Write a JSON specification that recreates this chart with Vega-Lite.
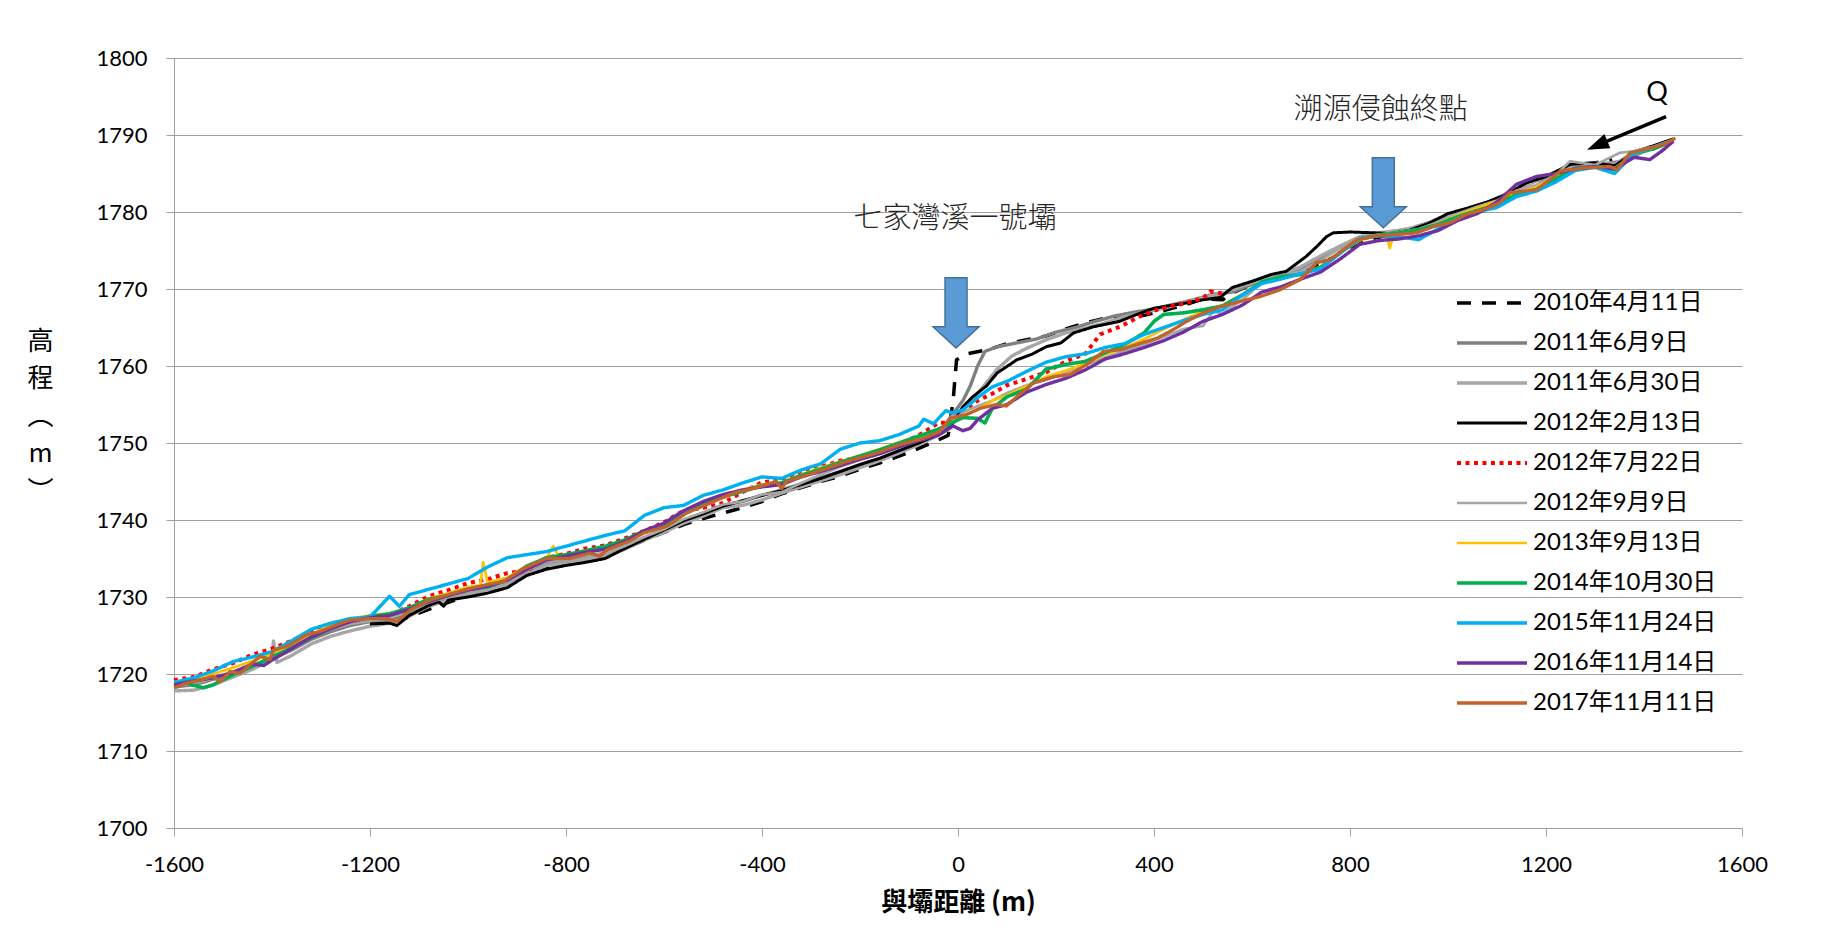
{
"$schema":"https://vega.github.io/schema/vega-lite/v6.json",
"width":1568,"height":770,
"autosize":{"type":"none"},
"padding":{"left":174,"top":58,"right":97,"bottom":106},
"background":"white",
"config":{"view":{"stroke":null},"font":"Lato, Noto Sans CJK TC"},
"datasets":{
"lab":[{"s":"a","n":"2010年4月11日"},{"s":"b","n":"2011年6月9日"},{"s":"c","n":"2011年6月30日"},{"s":"d","n":"2012年2月13日"},{"s":"e","n":"2012年7月22日"},{"s":"f","n":"2012年9月9日"},{"s":"g","n":"2013年9月13日"},{"s":"h","n":"2014年10月30日"},{"s":"i","n":"2015年11月24日"},{"s":"j","n":"2016年11月14日"},{"s":"k","n":"2017年11月11日"}],
"ann":[{"x":-6,"y":1779.1,"t":"七家灣溪一號壩"},{"x":863,"y":1793.3,"t":"溯源侵蝕終點"}],
"q":[{"x":1426.5,"y":1795.4,"t":"Q"}],
"arr":[{"x":-4,"y":1766.9},{"x":868,"y":1782.5}],
"qline":[{"x":1445,"y":1792.4,"x2":1317.5,"y2":1789.0}],
"qhead":[{"x":1304.5,"y":1788.65}],
"pts":[
{"s":"a","x":-1200,"y":1726.3},{"s":"a","x":-1160,"y":1726.6},{"s":"a","x":-1120,"y":1727.4},{"s":"a","x":-1080,"y":1728.4},{"s":"a","x":-1040,"y":1729.3},{"s":"a","x":-1000,"y":1730.2},{"s":"a","x":-960,"y":1730.8},{"s":"a","x":-920,"y":1731.6},{"s":"a","x":-880,"y":1732.8},{"s":"a","x":-840,"y":1733.9},{"s":"a","x":-800,"y":1734.3},{"s":"a","x":-760,"y":1734.9},{"s":"a","x":-720,"y":1735.4},{"s":"a","x":-680,"y":1736.3},{"s":"a","x":-640,"y":1737.4},{"s":"a","x":-600,"y":1738.4},{"s":"a","x":-560,"y":1739.4},{"s":"a","x":-520,"y":1740.2},{"s":"a","x":-480,"y":1740.9},{"s":"a","x":-440,"y":1741.6},{"s":"a","x":-400,"y":1742.4},{"s":"a","x":-360,"y":1743.4},{"s":"a","x":-320,"y":1744.2},{"s":"a","x":-280,"y":1745.0},{"s":"a","x":-240,"y":1745.7},{"s":"a","x":-200,"y":1746.6},{"s":"a","x":-160,"y":1747.4},{"s":"a","x":-120,"y":1748.3},{"s":"a","x":-80,"y":1749.3},{"s":"a","x":-40,"y":1750.4},{"s":"a","x":-20,"y":1751.0},{"s":"a","x":-10,"y":1755.5},{"s":"a","x":-3,"y":1760.8},{"s":"a","x":20,"y":1761.6},{"s":"a","x":60,"y":1762.1},{"s":"a","x":100,"y":1762.9},{"s":"a","x":140,"y":1763.4},{"s":"a","x":180,"y":1763.9},{"s":"a","x":220,"y":1764.8},{"s":"a","x":260,"y":1765.6},{"s":"a","x":300,"y":1766.2},{"s":"a","x":340,"y":1766.3},{"s":"a","x":380,"y":1766.6},{"s":"a","x":420,"y":1767.2},{"s":"a","x":460,"y":1767.9},{"s":"a","x":500,"y":1768.7},{"s":"a","x":540,"y":1768.6},{"s":"a","x":560,"y":1769.5},{"s":"a","x":600,"y":1770.6},{"s":"a","x":640,"y":1771.6},{"s":"a","x":680,"y":1772.2},{"s":"a","x":720,"y":1772.8},{"s":"a","x":760,"y":1773.9},{"s":"a","x":800,"y":1775.4},{"s":"a","x":840,"y":1776.5},{"s":"a","x":880,"y":1777.0},{"s":"a","x":920,"y":1777.5},{"s":"a","x":960,"y":1778.4},{"s":"a","x":1000,"y":1779.4},{"s":"a","x":1040,"y":1780.3},{"s":"a","x":1080,"y":1780.9},{"s":"a","x":1120,"y":1782.1},{"s":"a","x":1160,"y":1783.5},{"s":"a","x":1200,"y":1784.5},{"s":"a","x":1240,"y":1785.6},{"s":"a","x":1280,"y":1786.1},{"s":"a","x":1310,"y":1786.5},{"s":"a","x":1335,"y":1786.8},
{"s":"b","x":-1600,"y":1718.3},{"s":"b","x":-1560,"y":1718.6},{"s":"b","x":-1520,"y":1719.3},{"s":"b","x":-1480,"y":1720.0},{"s":"b","x":-1440,"y":1721.0},{"s":"b","x":-1400,"y":1722.0},{"s":"b","x":-1360,"y":1723.1},{"s":"b","x":-1320,"y":1724.5},{"s":"b","x":-1280,"y":1725.5},{"s":"b","x":-1240,"y":1726.3},{"s":"b","x":-1200,"y":1726.8},{"s":"b","x":-1160,"y":1726.9},{"s":"b","x":-1120,"y":1727.9},{"s":"b","x":-1080,"y":1729.0},{"s":"b","x":-1040,"y":1729.8},{"s":"b","x":-1000,"y":1730.6},{"s":"b","x":-960,"y":1731.2},{"s":"b","x":-920,"y":1731.9},{"s":"b","x":-880,"y":1733.3},{"s":"b","x":-840,"y":1734.5},{"s":"b","x":-800,"y":1734.7},{"s":"b","x":-760,"y":1735.2},{"s":"b","x":-720,"y":1735.7},{"s":"b","x":-680,"y":1736.6},{"s":"b","x":-640,"y":1737.7},{"s":"b","x":-600,"y":1738.7},{"s":"b","x":-560,"y":1739.9},{"s":"b","x":-520,"y":1740.8},{"s":"b","x":-480,"y":1741.9},{"s":"b","x":-440,"y":1742.4},{"s":"b","x":-400,"y":1743.2},{"s":"b","x":-360,"y":1743.9},{"s":"b","x":-320,"y":1744.7},{"s":"b","x":-280,"y":1745.5},{"s":"b","x":-240,"y":1746.3},{"s":"b","x":-200,"y":1747.2},{"s":"b","x":-160,"y":1748.0},{"s":"b","x":-120,"y":1749.0},{"s":"b","x":-80,"y":1750.0},{"s":"b","x":-40,"y":1751.2},{"s":"b","x":-10,"y":1753.8},{"s":"b","x":10,"y":1755.5},{"s":"b","x":25,"y":1757.4},{"s":"b","x":40,"y":1760.0},{"s":"b","x":55,"y":1761.9},{"s":"b","x":80,"y":1762.5},{"s":"b","x":120,"y":1763.0},{"s":"b","x":160,"y":1763.5},{"s":"b","x":200,"y":1764.4},{"s":"b","x":240,"y":1765.0},{"s":"b","x":280,"y":1765.8},{"s":"b","x":320,"y":1766.5},{"s":"b","x":360,"y":1767.0},{"s":"b","x":400,"y":1767.4},{"s":"b","x":440,"y":1768.0},{"s":"b","x":480,"y":1768.6},{"s":"b","x":520,"y":1769.3},{"s":"b","x":560,"y":1769.6},{"s":"b","x":600,"y":1770.6},{"s":"b","x":640,"y":1771.4},{"s":"b","x":680,"y":1772.1},{"s":"b","x":720,"y":1773.3},{"s":"b","x":760,"y":1774.8},{"s":"b","x":800,"y":1776.0},{"s":"b","x":840,"y":1777.0},{"s":"b","x":880,"y":1777.4},{"s":"b","x":920,"y":1777.8},{"s":"b","x":960,"y":1778.6},{"s":"b","x":1000,"y":1779.6},{"s":"b","x":1040,"y":1780.5},{"s":"b","x":1080,"y":1781.2},{"s":"b","x":1120,"y":1782.4},{"s":"b","x":1160,"y":1783.6},{"s":"b","x":1200,"y":1784.6},{"s":"b","x":1240,"y":1785.5},{"s":"b","x":1280,"y":1786.2},{"s":"b","x":1320,"y":1786.3},{"s":"b","x":1360,"y":1786.6},{"s":"b","x":1400,"y":1787.9},{"s":"b","x":1440,"y":1788.7},{"s":"b","x":1460,"y":1789.4},
{"s":"c","x":-1600,"y":1717.8},{"s":"c","x":-1560,"y":1717.9},{"s":"c","x":-1520,"y":1718.6},{"s":"c","x":-1480,"y":1719.6},{"s":"c","x":-1440,"y":1720.6},{"s":"c","x":-1400,"y":1721.9},{"s":"c","x":-1397,"y":1724.3},{"s":"c","x":-1390,"y":1721.5},{"s":"c","x":-1360,"y":1722.4},{"s":"c","x":-1320,"y":1723.9},{"s":"c","x":-1280,"y":1724.9},{"s":"c","x":-1240,"y":1725.6},{"s":"c","x":-1200,"y":1726.2},{"s":"c","x":-1160,"y":1726.6},{"s":"c","x":-1120,"y":1727.5},{"s":"c","x":-1080,"y":1728.8},{"s":"c","x":-1040,"y":1729.6},{"s":"c","x":-1000,"y":1730.3},{"s":"c","x":-960,"y":1730.9},{"s":"c","x":-920,"y":1731.6},{"s":"c","x":-880,"y":1733.0},{"s":"c","x":-840,"y":1734.1},{"s":"c","x":-800,"y":1734.4},{"s":"c","x":-760,"y":1734.9},{"s":"c","x":-720,"y":1735.3},{"s":"c","x":-680,"y":1736.2},{"s":"c","x":-640,"y":1737.4},{"s":"c","x":-600,"y":1738.4},{"s":"c","x":-560,"y":1739.6},{"s":"c","x":-520,"y":1740.5},{"s":"c","x":-480,"y":1741.6},{"s":"c","x":-440,"y":1741.9},{"s":"c","x":-400,"y":1742.6},{"s":"c","x":-360,"y":1743.5},{"s":"c","x":-320,"y":1744.3},{"s":"c","x":-280,"y":1745.1},{"s":"c","x":-240,"y":1745.9},{"s":"c","x":-200,"y":1746.8},{"s":"c","x":-160,"y":1747.7},{"s":"c","x":-120,"y":1748.7},{"s":"c","x":-80,"y":1749.8},{"s":"c","x":-40,"y":1751.0},{"s":"c","x":-10,"y":1753.5},{"s":"c","x":20,"y":1755.0},{"s":"c","x":50,"y":1757.2},{"s":"c","x":80,"y":1759.6},{"s":"c","x":110,"y":1761.3},{"s":"c","x":140,"y":1762.3},{"s":"c","x":180,"y":1763.4},{"s":"c","x":220,"y":1764.3},{"s":"c","x":260,"y":1764.9},{"s":"c","x":300,"y":1765.6},{"s":"c","x":340,"y":1766.4},{"s":"c","x":380,"y":1767.0},{"s":"c","x":420,"y":1767.5},{"s":"c","x":460,"y":1768.2},{"s":"c","x":500,"y":1768.9},{"s":"c","x":540,"y":1769.4},{"s":"c","x":580,"y":1770.4},{"s":"c","x":620,"y":1771.2},{"s":"c","x":660,"y":1771.9},{"s":"c","x":700,"y":1772.9},{"s":"c","x":740,"y":1774.3},{"s":"c","x":780,"y":1775.6},{"s":"c","x":820,"y":1776.8},{"s":"c","x":860,"y":1777.3},{"s":"c","x":900,"y":1777.6},{"s":"c","x":940,"y":1778.1},{"s":"c","x":980,"y":1778.9},{"s":"c","x":1020,"y":1780.0},{"s":"c","x":1060,"y":1780.8},{"s":"c","x":1100,"y":1781.7},{"s":"c","x":1140,"y":1783.0},{"s":"c","x":1180,"y":1784.0},{"s":"c","x":1220,"y":1785.2},{"s":"c","x":1260,"y":1786.2},{"s":"c","x":1300,"y":1786.4},{"s":"c","x":1340,"y":1786.2},{"s":"c","x":1380,"y":1787.8},{"s":"c","x":1420,"y":1788.6},{"s":"c","x":1460,"y":1789.4},
{"s":"d","x":-1200,"y":1726.5},{"s":"d","x":-1160,"y":1726.6},{"s":"d","x":-1145,"y":1726.3},{"s":"d","x":-1120,"y":1727.6},{"s":"d","x":-1080,"y":1728.9},{"s":"d","x":-1060,"y":1729.4},{"s":"d","x":-1050,"y":1728.8},{"s":"d","x":-1040,"y":1729.6},{"s":"d","x":-1000,"y":1730.0},{"s":"d","x":-960,"y":1730.5},{"s":"d","x":-920,"y":1731.2},{"s":"d","x":-880,"y":1732.8},{"s":"d","x":-840,"y":1733.6},{"s":"d","x":-800,"y":1734.1},{"s":"d","x":-760,"y":1734.5},{"s":"d","x":-720,"y":1735.0},{"s":"d","x":-680,"y":1736.3},{"s":"d","x":-640,"y":1737.5},{"s":"d","x":-600,"y":1738.7},{"s":"d","x":-560,"y":1739.9},{"s":"d","x":-520,"y":1740.8},{"s":"d","x":-480,"y":1741.8},{"s":"d","x":-440,"y":1742.5},{"s":"d","x":-400,"y":1743.2},{"s":"d","x":-360,"y":1743.8},{"s":"d","x":-320,"y":1744.6},{"s":"d","x":-280,"y":1745.4},{"s":"d","x":-240,"y":1746.3},{"s":"d","x":-200,"y":1747.2},{"s":"d","x":-160,"y":1748.0},{"s":"d","x":-120,"y":1749.0},{"s":"d","x":-80,"y":1750.0},{"s":"d","x":-40,"y":1751.1},{"s":"d","x":-10,"y":1752.6},{"s":"d","x":10,"y":1754.7},{"s":"d","x":30,"y":1756.0},{"s":"d","x":58,"y":1757.4},{"s":"d","x":80,"y":1759.1},{"s":"d","x":120,"y":1760.8},{"s":"d","x":150,"y":1761.5},{"s":"d","x":180,"y":1762.5},{"s":"d","x":210,"y":1763.0},{"s":"d","x":236,"y":1764.3},{"s":"d","x":277,"y":1765.1},{"s":"d","x":330,"y":1765.8},{"s":"d","x":365,"y":1766.7},{"s":"d","x":400,"y":1767.5},{"s":"d","x":467,"y":1768.2},{"s":"d","x":500,"y":1768.6},{"s":"d","x":535,"y":1768.9},{"s":"d","x":560,"y":1770.2},{"s":"d","x":600,"y":1771.0},{"s":"d","x":640,"y":1771.9},{"s":"d","x":670,"y":1772.3},{"s":"d","x":710,"y":1774.2},{"s":"d","x":732,"y":1775.5},{"s":"d","x":752,"y":1776.8},{"s":"d","x":766,"y":1777.3},{"s":"d","x":800,"y":1777.4},{"s":"d","x":850,"y":1777.3},{"s":"d","x":880,"y":1777.2},{"s":"d","x":920,"y":1777.6},{"s":"d","x":960,"y":1778.5},{"s":"d","x":1000,"y":1779.8},{"s":"d","x":1040,"y":1780.5},{"s":"d","x":1080,"y":1781.3},{"s":"d","x":1120,"y":1782.3},{"s":"d","x":1160,"y":1783.8},{"s":"d","x":1200,"y":1784.6},{"s":"d","x":1250,"y":1786.2},{"s":"d","x":1300,"y":1786.4},{"s":"d","x":1340,"y":1786.0},{"s":"d","x":1385,"y":1787.9},{"s":"d","x":1420,"y":1788.6},{"s":"d","x":1460,"y":1789.5},
{"s":"e","x":-1600,"y":1719.2},{"s":"e","x":-1560,"y":1719.6},{"s":"e","x":-1520,"y":1720.6},{"s":"e","x":-1480,"y":1721.4},{"s":"e","x":-1440,"y":1722.5},{"s":"e","x":-1400,"y":1723.3},{"s":"e","x":-1360,"y":1724.3},{"s":"e","x":-1320,"y":1725.4},{"s":"e","x":-1280,"y":1726.3},{"s":"e","x":-1240,"y":1727.1},{"s":"e","x":-1200,"y":1727.4},{"s":"e","x":-1160,"y":1727.6},{"s":"e","x":-1120,"y":1728.8},{"s":"e","x":-1080,"y":1730.1},{"s":"e","x":-1040,"y":1730.9},{"s":"e","x":-1000,"y":1731.8},{"s":"e","x":-960,"y":1732.3},{"s":"e","x":-920,"y":1733.1},{"s":"e","x":-880,"y":1733.4},{"s":"e","x":-840,"y":1735.1},{"s":"e","x":-800,"y":1735.6},{"s":"e","x":-760,"y":1736.3},{"s":"e","x":-720,"y":1736.7},{"s":"e","x":-680,"y":1737.6},{"s":"e","x":-640,"y":1738.6},{"s":"e","x":-600,"y":1739.7},{"s":"e","x":-560,"y":1741.2},{"s":"e","x":-520,"y":1741.6},{"s":"e","x":-480,"y":1742.2},{"s":"e","x":-440,"y":1743.6},{"s":"e","x":-400,"y":1744.9},{"s":"e","x":-360,"y":1745.2},{"s":"e","x":-320,"y":1746.0},{"s":"e","x":-280,"y":1746.9},{"s":"e","x":-240,"y":1747.7},{"s":"e","x":-200,"y":1748.1},{"s":"e","x":-160,"y":1748.8},{"s":"e","x":-120,"y":1749.9},{"s":"e","x":-80,"y":1751.0},{"s":"e","x":-40,"y":1752.6},{"s":"e","x":-10,"y":1752.7},{"s":"e","x":10,"y":1754.1},{"s":"e","x":40,"y":1755.5},{"s":"e","x":70,"y":1756.4},{"s":"e","x":100,"y":1757.5},{"s":"e","x":140,"y":1758.3},{"s":"e","x":180,"y":1759.2},{"s":"e","x":220,"y":1760.6},{"s":"e","x":260,"y":1761.6},{"s":"e","x":290,"y":1764.1},{"s":"e","x":330,"y":1765.1},{"s":"e","x":370,"y":1766.4},{"s":"e","x":410,"y":1767.4},{"s":"e","x":460,"y":1768.1},{"s":"e","x":500,"y":1768.8},{"s":"e","x":515,"y":1769.7},{"s":"e","x":540,"y":1769.4},
{"s":"f","x":-1600,"y":1718.4},{"s":"f","x":-1560,"y":1718.8},{"s":"f","x":-1520,"y":1719.4},{"s":"f","x":-1480,"y":1720.3},{"s":"f","x":-1440,"y":1721.2},{"s":"f","x":-1400,"y":1722.1},{"s":"f","x":-1360,"y":1723.5},{"s":"f","x":-1320,"y":1724.9},{"s":"f","x":-1280,"y":1725.8},{"s":"f","x":-1240,"y":1726.5},{"s":"f","x":-1200,"y":1726.9},{"s":"f","x":-1160,"y":1727.3},{"s":"f","x":-1120,"y":1728.1},{"s":"f","x":-1080,"y":1729.3},{"s":"f","x":-1040,"y":1730.0},{"s":"f","x":-1000,"y":1730.7},{"s":"f","x":-960,"y":1731.3},{"s":"f","x":-920,"y":1732.0},{"s":"f","x":-880,"y":1733.5},{"s":"f","x":-840,"y":1734.6},{"s":"f","x":-800,"y":1734.8},{"s":"f","x":-760,"y":1735.3},{"s":"f","x":-720,"y":1735.7},{"s":"f","x":-680,"y":1736.6},{"s":"f","x":-640,"y":1737.8},{"s":"f","x":-600,"y":1738.8},{"s":"f","x":-560,"y":1740.1},{"s":"f","x":-520,"y":1741.0},{"s":"f","x":-480,"y":1742.0},{"s":"f","x":-440,"y":1742.4},{"s":"f","x":-400,"y":1743.3},{"s":"f","x":-360,"y":1743.6},{"s":"f","x":-320,"y":1744.8},{"s":"f","x":-280,"y":1745.9},{"s":"f","x":-240,"y":1746.9},{"s":"f","x":-200,"y":1747.8},{"s":"f","x":-160,"y":1748.6},{"s":"f","x":-120,"y":1749.6},{"s":"f","x":-80,"y":1750.4},{"s":"f","x":-40,"y":1751.4},{"s":"f","x":-10,"y":1752.8},{"s":"f","x":10,"y":1754.0},{"s":"f","x":40,"y":1754.8},{"s":"f","x":70,"y":1755.5},{"s":"f","x":100,"y":1756.5},{"s":"f","x":140,"y":1757.5},{"s":"f","x":180,"y":1758.2},{"s":"f","x":220,"y":1759.1},{"s":"f","x":260,"y":1760.1},{"s":"f","x":300,"y":1761.1},{"s":"f","x":340,"y":1762.0},{"s":"f","x":380,"y":1762.8},{"s":"f","x":420,"y":1763.8},{"s":"f","x":460,"y":1764.8},{"s":"f","x":500,"y":1765.2},{"s":"f","x":521,"y":1767.1},{"s":"f","x":540,"y":1766.8},{"s":"f","x":580,"y":1768.6},{"s":"f","x":620,"y":1770.8},{"s":"f","x":660,"y":1771.7},{"s":"f","x":700,"y":1772.3},{"s":"f","x":740,"y":1773.7},{"s":"f","x":780,"y":1775.3},{"s":"f","x":820,"y":1776.7},{"s":"f","x":860,"y":1777.1},{"s":"f","x":900,"y":1777.4},{"s":"f","x":940,"y":1777.8},{"s":"f","x":980,"y":1778.7},{"s":"f","x":1020,"y":1779.8},{"s":"f","x":1060,"y":1780.7},{"s":"f","x":1100,"y":1781.5},{"s":"f","x":1140,"y":1782.8},{"s":"f","x":1180,"y":1783.5},{"s":"f","x":1220,"y":1784.8},{"s":"f","x":1249,"y":1786.6},{"s":"f","x":1300,"y":1786.1},{"s":"f","x":1351,"y":1787.7},{"s":"f","x":1380,"y":1787.9},{"s":"f","x":1420,"y":1788.5},{"s":"f","x":1460,"y":1789.4},
{"s":"g","x":-1600,"y":1719.0},{"s":"g","x":-1560,"y":1719.4},{"s":"g","x":-1520,"y":1720.0},{"s":"g","x":-1480,"y":1720.8},{"s":"g","x":-1440,"y":1721.7},{"s":"g","x":-1400,"y":1722.6},{"s":"g","x":-1360,"y":1723.8},{"s":"g","x":-1320,"y":1725.2},{"s":"g","x":-1280,"y":1726.3},{"s":"g","x":-1240,"y":1727.2},{"s":"g","x":-1200,"y":1727.6},{"s":"g","x":-1160,"y":1727.9},{"s":"g","x":-1120,"y":1728.6},{"s":"g","x":-1080,"y":1729.8},{"s":"g","x":-1040,"y":1730.5},{"s":"g","x":-1000,"y":1731.3},{"s":"g","x":-975,"y":1731.5},{"s":"g","x":-969,"y":1734.5},{"s":"g","x":-960,"y":1731.9},{"s":"g","x":-920,"y":1732.5},{"s":"g","x":-880,"y":1734.1},{"s":"g","x":-840,"y":1735.0},{"s":"g","x":-826,"y":1736.6},{"s":"g","x":-815,"y":1735.3},{"s":"g","x":-800,"y":1735.4},{"s":"g","x":-760,"y":1736.0},{"s":"g","x":-720,"y":1736.5},{"s":"g","x":-680,"y":1737.4},{"s":"g","x":-640,"y":1738.6},{"s":"g","x":-600,"y":1739.5},{"s":"g","x":-560,"y":1741.0},{"s":"g","x":-520,"y":1742.1},{"s":"g","x":-480,"y":1743.1},{"s":"g","x":-440,"y":1743.9},{"s":"g","x":-400,"y":1744.6},{"s":"g","x":-360,"y":1744.9},{"s":"g","x":-320,"y":1745.9},{"s":"g","x":-280,"y":1746.8},{"s":"g","x":-240,"y":1747.6},{"s":"g","x":-200,"y":1748.4},{"s":"g","x":-160,"y":1749.2},{"s":"g","x":-120,"y":1750.1},{"s":"g","x":-80,"y":1750.8},{"s":"g","x":-40,"y":1751.8},{"s":"g","x":-10,"y":1752.8},{"s":"g","x":10,"y":1753.6},{"s":"g","x":40,"y":1754.3},{"s":"g","x":70,"y":1755.5},{"s":"g","x":100,"y":1756.2},{"s":"g","x":140,"y":1757.4},{"s":"g","x":180,"y":1758.6},{"s":"g","x":220,"y":1759.4},{"s":"g","x":260,"y":1760.3},{"s":"g","x":300,"y":1761.5},{"s":"g","x":340,"y":1762.4},{"s":"g","x":380,"y":1763.5},{"s":"g","x":420,"y":1764.8},{"s":"g","x":460,"y":1766.0},{"s":"g","x":500,"y":1767.1},{"s":"g","x":540,"y":1767.9},{"s":"g","x":580,"y":1769.3},{"s":"g","x":620,"y":1770.9},{"s":"g","x":660,"y":1771.5},{"s":"g","x":700,"y":1771.8},{"s":"g","x":740,"y":1772.9},{"s":"g","x":780,"y":1774.7},{"s":"g","x":820,"y":1776.3},{"s":"g","x":860,"y":1777.0},{"s":"g","x":875,"y":1777.1},{"s":"g","x":881,"y":1775.3},{"s":"g","x":890,"y":1777.2},{"s":"g","x":940,"y":1777.6},{"s":"g","x":980,"y":1778.5},{"s":"g","x":1020,"y":1779.6},{"s":"g","x":1060,"y":1780.5},{"s":"g","x":1100,"y":1781.4},{"s":"g","x":1140,"y":1782.5},{"s":"g","x":1180,"y":1783.2},{"s":"g","x":1220,"y":1784.6},{"s":"g","x":1260,"y":1785.5},{"s":"g","x":1300,"y":1785.8},{"s":"g","x":1340,"y":1785.7},{"s":"g","x":1380,"y":1787.5},{"s":"g","x":1420,"y":1788.2},{"s":"g","x":1460,"y":1789.1},
{"s":"h","x":-1600,"y":1718.9},{"s":"h","x":-1580,"y":1718.9},{"s":"h","x":-1540,"y":1718.2},{"s":"h","x":-1520,"y":1718.6},{"s":"h","x":-1480,"y":1719.9},{"s":"h","x":-1440,"y":1721.0},{"s":"h","x":-1400,"y":1722.2},{"s":"h","x":-1360,"y":1723.4},{"s":"h","x":-1320,"y":1724.7},{"s":"h","x":-1280,"y":1726.0},{"s":"h","x":-1240,"y":1726.9},{"s":"h","x":-1200,"y":1727.5},{"s":"h","x":-1160,"y":1727.8},{"s":"h","x":-1120,"y":1728.6},{"s":"h","x":-1080,"y":1729.7},{"s":"h","x":-1040,"y":1730.2},{"s":"h","x":-1000,"y":1731.0},{"s":"h","x":-960,"y":1731.3},{"s":"h","x":-920,"y":1732.2},{"s":"h","x":-880,"y":1734.0},{"s":"h","x":-840,"y":1735.1},{"s":"h","x":-800,"y":1735.5},{"s":"h","x":-760,"y":1736.0},{"s":"h","x":-720,"y":1736.6},{"s":"h","x":-680,"y":1737.4},{"s":"h","x":-640,"y":1738.6},{"s":"h","x":-600,"y":1739.4},{"s":"h","x":-560,"y":1740.9},{"s":"h","x":-520,"y":1742.0},{"s":"h","x":-480,"y":1743.0},{"s":"h","x":-440,"y":1743.7},{"s":"h","x":-400,"y":1744.5},{"s":"h","x":-360,"y":1744.8},{"s":"h","x":-320,"y":1745.8},{"s":"h","x":-280,"y":1746.6},{"s":"h","x":-240,"y":1747.5},{"s":"h","x":-200,"y":1748.3},{"s":"h","x":-160,"y":1749.1},{"s":"h","x":-120,"y":1750.0},{"s":"h","x":-80,"y":1750.9},{"s":"h","x":-40,"y":1751.8},{"s":"h","x":-10,"y":1752.7},{"s":"h","x":10,"y":1753.3},{"s":"h","x":40,"y":1753.2},{"s":"h","x":55,"y":1752.6},{"s":"h","x":70,"y":1754.5},{"s":"h","x":100,"y":1756.0},{"s":"h","x":140,"y":1757.0},{"s":"h","x":180,"y":1759.6},{"s":"h","x":220,"y":1760.2},{"s":"h","x":260,"y":1760.6},{"s":"h","x":300,"y":1761.7},{"s":"h","x":340,"y":1762.8},{"s":"h","x":380,"y":1764.3},{"s":"h","x":400,"y":1765.8},{"s":"h","x":420,"y":1766.7},{"s":"h","x":460,"y":1766.9},{"s":"h","x":500,"y":1767.3},{"s":"h","x":540,"y":1767.8},{"s":"h","x":580,"y":1769.2},{"s":"h","x":620,"y":1770.9},{"s":"h","x":660,"y":1771.6},{"s":"h","x":700,"y":1771.9},{"s":"h","x":740,"y":1772.8},{"s":"h","x":780,"y":1774.7},{"s":"h","x":820,"y":1776.5},{"s":"h","x":860,"y":1777.0},{"s":"h","x":900,"y":1777.3},{"s":"h","x":940,"y":1777.7},{"s":"h","x":980,"y":1778.4},{"s":"h","x":1020,"y":1779.4},{"s":"h","x":1060,"y":1780.2},{"s":"h","x":1100,"y":1780.9},{"s":"h","x":1140,"y":1782.3},{"s":"h","x":1180,"y":1782.9},{"s":"h","x":1220,"y":1784.3},{"s":"h","x":1260,"y":1785.6},{"s":"h","x":1300,"y":1785.9},{"s":"h","x":1340,"y":1785.5},{"s":"h","x":1380,"y":1787.6},{"s":"h","x":1420,"y":1788.2},{"s":"h","x":1460,"y":1789.3},
{"s":"i","x":-1600,"y":1718.9},{"s":"i","x":-1560,"y":1719.5},{"s":"i","x":-1520,"y":1720.4},{"s":"i","x":-1480,"y":1721.6},{"s":"i","x":-1440,"y":1722.2},{"s":"i","x":-1400,"y":1722.9},{"s":"i","x":-1360,"y":1724.3},{"s":"i","x":-1320,"y":1725.8},{"s":"i","x":-1280,"y":1726.6},{"s":"i","x":-1240,"y":1727.2},{"s":"i","x":-1200,"y":1727.4},{"s":"i","x":-1160,"y":1730.1},{"s":"i","x":-1140,"y":1728.8},{"s":"i","x":-1120,"y":1730.3},{"s":"i","x":-1080,"y":1731.0},{"s":"i","x":-1040,"y":1731.7},{"s":"i","x":-1000,"y":1732.4},{"s":"i","x":-960,"y":1733.9},{"s":"i","x":-920,"y":1735.1},{"s":"i","x":-880,"y":1735.5},{"s":"i","x":-840,"y":1735.9},{"s":"i","x":-800,"y":1736.6},{"s":"i","x":-760,"y":1737.3},{"s":"i","x":-720,"y":1738.0},{"s":"i","x":-680,"y":1738.6},{"s":"i","x":-640,"y":1740.6},{"s":"i","x":-600,"y":1741.6},{"s":"i","x":-560,"y":1741.9},{"s":"i","x":-520,"y":1743.2},{"s":"i","x":-480,"y":1743.9},{"s":"i","x":-440,"y":1744.8},{"s":"i","x":-400,"y":1745.6},{"s":"i","x":-360,"y":1745.4},{"s":"i","x":-320,"y":1746.5},{"s":"i","x":-280,"y":1747.3},{"s":"i","x":-240,"y":1749.2},{"s":"i","x":-200,"y":1750.0},{"s":"i","x":-160,"y":1750.3},{"s":"i","x":-120,"y":1751.1},{"s":"i","x":-80,"y":1752.2},{"s":"i","x":-70,"y":1753.1},{"s":"i","x":-50,"y":1752.5},{"s":"i","x":-25,"y":1754.2},{"s":"i","x":-10,"y":1753.9},{"s":"i","x":10,"y":1754.3},{"s":"i","x":40,"y":1755.9},{"s":"i","x":70,"y":1757.3},{"s":"i","x":100,"y":1758.0},{"s":"i","x":140,"y":1759.3},{"s":"i","x":180,"y":1760.5},{"s":"i","x":220,"y":1761.2},{"s":"i","x":260,"y":1761.6},{"s":"i","x":300,"y":1762.4},{"s":"i","x":340,"y":1762.9},{"s":"i","x":380,"y":1764.1},{"s":"i","x":420,"y":1765.0},{"s":"i","x":460,"y":1765.9},{"s":"i","x":500,"y":1766.7},{"s":"i","x":540,"y":1767.3},{"s":"i","x":580,"y":1769.2},{"s":"i","x":620,"y":1770.7},{"s":"i","x":660,"y":1771.3},{"s":"i","x":700,"y":1772.0},{"s":"i","x":740,"y":1772.6},{"s":"i","x":780,"y":1774.7},{"s":"i","x":820,"y":1776.6},{"s":"i","x":860,"y":1776.9},{"s":"i","x":900,"y":1776.8},{"s":"i","x":940,"y":1776.4},{"s":"i","x":980,"y":1777.8},{"s":"i","x":1020,"y":1779.2},{"s":"i","x":1060,"y":1780.0},{"s":"i","x":1100,"y":1780.6},{"s":"i","x":1140,"y":1782.0},{"s":"i","x":1180,"y":1782.7},{"s":"i","x":1220,"y":1783.9},{"s":"i","x":1260,"y":1785.4},{"s":"i","x":1300,"y":1785.8},{"s":"i","x":1340,"y":1785.0},{"s":"i","x":1380,"y":1787.6},{"s":"i","x":1420,"y":1788.4},{"s":"i","x":1460,"y":1789.3},
{"s":"j","x":-1600,"y":1718.6},{"s":"j","x":-1560,"y":1719.1},{"s":"j","x":-1520,"y":1719.5},{"s":"j","x":-1480,"y":1720.2},{"s":"j","x":-1440,"y":1721.3},{"s":"j","x":-1417,"y":1721.1},{"s":"j","x":-1400,"y":1721.8},{"s":"j","x":-1360,"y":1723.3},{"s":"j","x":-1320,"y":1724.8},{"s":"j","x":-1280,"y":1725.9},{"s":"j","x":-1240,"y":1726.8},{"s":"j","x":-1200,"y":1727.3},{"s":"j","x":-1160,"y":1727.6},{"s":"j","x":-1120,"y":1728.4},{"s":"j","x":-1080,"y":1729.4},{"s":"j","x":-1040,"y":1730.2},{"s":"j","x":-1000,"y":1730.9},{"s":"j","x":-960,"y":1731.4},{"s":"j","x":-920,"y":1732.2},{"s":"j","x":-880,"y":1733.6},{"s":"j","x":-840,"y":1734.8},{"s":"j","x":-800,"y":1735.3},{"s":"j","x":-760,"y":1735.8},{"s":"j","x":-720,"y":1736.2},{"s":"j","x":-680,"y":1737.2},{"s":"j","x":-640,"y":1738.6},{"s":"j","x":-600,"y":1739.6},{"s":"j","x":-560,"y":1741.2},{"s":"j","x":-520,"y":1742.4},{"s":"j","x":-480,"y":1743.3},{"s":"j","x":-440,"y":1743.9},{"s":"j","x":-400,"y":1744.3},{"s":"j","x":-360,"y":1744.6},{"s":"j","x":-320,"y":1745.6},{"s":"j","x":-280,"y":1746.3},{"s":"j","x":-240,"y":1747.1},{"s":"j","x":-200,"y":1747.9},{"s":"j","x":-160,"y":1748.6},{"s":"j","x":-120,"y":1749.5},{"s":"j","x":-80,"y":1750.3},{"s":"j","x":-40,"y":1751.0},{"s":"j","x":-10,"y":1752.2},{"s":"j","x":10,"y":1751.6},{"s":"j","x":25,"y":1751.9},{"s":"j","x":40,"y":1753.0},{"s":"j","x":70,"y":1754.5},{"s":"j","x":100,"y":1755.0},{"s":"j","x":140,"y":1756.6},{"s":"j","x":180,"y":1757.6},{"s":"j","x":220,"y":1758.4},{"s":"j","x":260,"y":1759.5},{"s":"j","x":300,"y":1760.9},{"s":"j","x":340,"y":1761.6},{"s":"j","x":380,"y":1762.4},{"s":"j","x":420,"y":1763.3},{"s":"j","x":460,"y":1764.4},{"s":"j","x":500,"y":1765.8},{"s":"j","x":540,"y":1766.7},{"s":"j","x":580,"y":1767.9},{"s":"j","x":620,"y":1769.6},{"s":"j","x":660,"y":1770.3},{"s":"j","x":700,"y":1771.3},{"s":"j","x":740,"y":1772.2},{"s":"j","x":780,"y":1773.9},{"s":"j","x":820,"y":1775.8},{"s":"j","x":860,"y":1776.3},{"s":"j","x":900,"y":1776.5},{"s":"j","x":940,"y":1776.9},{"s":"j","x":980,"y":1777.6},{"s":"j","x":1020,"y":1778.9},{"s":"j","x":1060,"y":1779.8},{"s":"j","x":1100,"y":1781.3},{"s":"j","x":1140,"y":1783.6},{"s":"j","x":1180,"y":1784.6},{"s":"j","x":1220,"y":1785.0},{"s":"j","x":1260,"y":1785.6},{"s":"j","x":1300,"y":1785.9},{"s":"j","x":1340,"y":1785.6},{"s":"j","x":1380,"y":1787.1},{"s":"j","x":1412,"y":1786.8},{"s":"j","x":1440,"y":1788.1},{"s":"j","x":1460,"y":1789.2},
{"s":"k","x":-1600,"y":1718.2},{"s":"k","x":-1570,"y":1718.9},{"s":"k","x":-1547,"y":1719.2},{"s":"k","x":-1520,"y":1719.7},{"s":"k","x":-1506,"y":1719.0},{"s":"k","x":-1486,"y":1720.3},{"s":"k","x":-1465,"y":1720.1},{"s":"k","x":-1445,"y":1721.2},{"s":"k","x":-1424,"y":1722.3},{"s":"k","x":-1404,"y":1721.9},{"s":"k","x":-1397,"y":1723.1},{"s":"k","x":-1370,"y":1723.6},{"s":"k","x":-1350,"y":1724.3},{"s":"k","x":-1329,"y":1725.1},{"s":"k","x":-1303,"y":1725.5},{"s":"k","x":-1268,"y":1726.4},{"s":"k","x":-1241,"y":1727.0},{"s":"k","x":-1200,"y":1727.2},{"s":"k","x":-1166,"y":1727.2},{"s":"k","x":-1145,"y":1726.8},{"s":"k","x":-1118,"y":1728.3},{"s":"k","x":-1078,"y":1729.6},{"s":"k","x":-1030,"y":1730.5},{"s":"k","x":-996,"y":1731.1},{"s":"k","x":-962,"y":1731.6},{"s":"k","x":-928,"y":1732.0},{"s":"k","x":-887,"y":1733.7},{"s":"k","x":-840,"y":1735.0},{"s":"k","x":-792,"y":1735.0},{"s":"k","x":-751,"y":1735.7},{"s":"k","x":-731,"y":1735.3},{"s":"k","x":-717,"y":1736.1},{"s":"k","x":-690,"y":1736.8},{"s":"k","x":-669,"y":1737.3},{"s":"k","x":-642,"y":1738.3},{"s":"k","x":-594,"y":1739.2},{"s":"k","x":-554,"y":1740.9},{"s":"k","x":-506,"y":1742.2},{"s":"k","x":-458,"y":1743.5},{"s":"k","x":-417,"y":1744.1},{"s":"k","x":-371,"y":1745.0},{"s":"k","x":-360,"y":1744.1},{"s":"k","x":-350,"y":1745.0},{"s":"k","x":-295,"y":1746.1},{"s":"k","x":-227,"y":1747.6},{"s":"k","x":-166,"y":1748.7},{"s":"k","x":-118,"y":1749.8},{"s":"k","x":-71,"y":1750.6},{"s":"k","x":-37,"y":1751.5},{"s":"k","x":-16,"y":1753.2},{"s":"k","x":18,"y":1753.7},{"s":"k","x":45,"y":1754.5},{"s":"k","x":79,"y":1755.0},{"s":"k","x":99,"y":1754.8},{"s":"k","x":120,"y":1756.0},{"s":"k","x":154,"y":1757.8},{"s":"k","x":195,"y":1758.6},{"s":"k","x":229,"y":1758.9},{"s":"k","x":263,"y":1760.2},{"s":"k","x":297,"y":1761.9},{"s":"k","x":331,"y":1762.1},{"s":"k","x":365,"y":1762.8},{"s":"k","x":406,"y":1763.6},{"s":"k","x":433,"y":1764.5},{"s":"k","x":467,"y":1765.8},{"s":"k","x":501,"y":1766.9},{"s":"k","x":535,"y":1767.7},{"s":"k","x":576,"y":1768.4},{"s":"k","x":616,"y":1769.0},{"s":"k","x":657,"y":1769.9},{"s":"k","x":698,"y":1771.2},{"s":"k","x":732,"y":1773.4},{"s":"k","x":759,"y":1773.8},{"s":"k","x":786,"y":1775.1},{"s":"k","x":814,"y":1776.4},{"s":"k","x":854,"y":1776.9},{"s":"k","x":902,"y":1777.1},{"s":"k","x":936,"y":1777.3},{"s":"k","x":970,"y":1778.1},{"s":"k","x":1004,"y":1778.6},{"s":"k","x":1038,"y":1779.7},{"s":"k","x":1072,"y":1780.3},{"s":"k","x":1106,"y":1781.2},{"s":"k","x":1126,"y":1782.5},{"s":"k","x":1181,"y":1782.9},{"s":"k","x":1208,"y":1784.2},{"s":"k","x":1229,"y":1785.3},{"s":"k","x":1276,"y":1785.7},{"s":"k","x":1331,"y":1785.9},{"s":"k","x":1345,"y":1785.5},{"s":"k","x":1372,"y":1787.7},{"s":"k","x":1399,"y":1788.1},{"s":"k","x":1426,"y":1788.5},{"s":"k","x":1447,"y":1789.0},{"s":"k","x":1464,"y":1789.6}
]},
"layer":[
{"data":{"name":"pts"},
"transform":[{"lookup":"s","from":{"data":{"name":"lab"},"key":"s","fields":["n"]}}],
"mark":{"type":"line","strokeJoin":"round"},
"encoding":{
"x":{"field":"x","type":"quantitative","scale":{"domain":[-1600,1600],"nice":false,"zero":false},
"axis":{"values":[-1600,-1200,-800,-400,0,400,800,1200,1600],"labelExpr":"toString(datum.value)","grid":false,"title":"與壩距離 (m)","titleFont":"Noto Sans CJK TC","titleFontSize":26,"titleFontWeight":"bold","titleColor":"#000000","titlePadding":14,"labelFont":"Lato","labelFontSize":22,"labelColor":"#000000","labelPadding":18,"labelFlush":false,"labelOverlap":false,"tickSize":8,"tickColor":"#9F9F9F","domainColor":"#9F9F9F"}},
"y":{"field":"y","type":"quantitative","scale":{"domain":[1700,1800],"nice":false,"zero":false},
"axis":{"values":[1700,1710,1720,1730,1740,1750,1760,1770,1780,1790,1800],"format":"d","grid":true,"gridColor":"#9F9F9F","gridWidth":1,"title":["高","程","︵","m","︶"],"titleAngle":0,"titleX":-134,"titleY":270,"titleAlign":"center","titleBaseline":"top","titleFont":"Noto Sans CJK TC","titleFontSize":26,"titleFontWeight":"normal","titleLineHeight":37.5,"titleColor":"#000000","labelFont":"Lato","labelFontSize":22,"labelColor":"#000000","labelPadding":19,"labelOverlap":false,"tickSize":8,"tickColor":"#9F9F9F","domainColor":"#9F9F9F"}},
"color":{"field":"n","type":"nominal",
"scale":{"domain":["2010年4月11日","2011年6月9日","2011年6月30日","2012年2月13日","2012年7月22日","2012年9月9日","2013年9月13日","2014年10月30日","2015年11月24日","2016年11月14日","2017年11月11日"],
"range":["#000000","#808080","#A6A6A6","#000000","#FF0000","#A6A6A6","#FFC000","#00B050","#00B0F0","#7030A0","#C0642C"]},
"legend":{"orient":"none","legendX":1306,"legendY":233,"title":null,"symbolType":"M-5,0L5,0","symbolSize":196,"labelFont":"Lato, Noto Sans CJK TC","labelFontSize":24,"labelColor":"#000000","labelOffset":29,"rowPadding":16,"padding":0,"labelLimit":400}},
"strokeDash":{"field":"n","type":"nominal",
"scale":{"domain":["2010年4月11日","2011年6月9日","2011年6月30日","2012年2月13日","2012年7月22日","2012年9月9日","2013年9月13日","2014年10月30日","2015年11月24日","2016年11月14日","2017年11月11日"],
"range":[[14,11],[1,0],[1,0],[1,0],[4,4.5],[1,0],[1,0],[1,0],[1,0],[1,0],[1,0]]},
"legend":{"orient":"none","legendX":1306,"legendY":233,"title":null,"symbolType":"M-5,0L5,0","symbolSize":196,"labelFont":"Lato, Noto Sans CJK TC","labelFontSize":24,"labelColor":"#000000","labelOffset":29,"rowPadding":16,"padding":0,"labelLimit":400}},
"strokeWidth":{"field":"n","type":"nominal",
"scale":{"type":"ordinal","domain":["2010年4月11日","2011年6月9日","2011年6月30日","2012年2月13日","2012年7月22日","2012年9月9日","2013年9月13日","2014年10月30日","2015年11月24日","2016年11月14日","2017年11月11日"],
"range":[3.5,3.4,3.4,3,4,2.7,2.7,3.6,3.4,3.4,3.3]},
"legend":{"orient":"none","legendX":1306,"legendY":233,"title":null,"symbolType":"M-5,0L5,0","symbolSize":196,"labelFont":"Lato, Noto Sans CJK TC","labelFontSize":24,"labelColor":"#000000","labelOffset":29,"rowPadding":16,"padding":0,"labelLimit":400}}
}},
{"data":{"name":"arr"},
"mark":{"type":"point","shape":"M-0.314,-1L0.314,-1L0.314,0.4L0.657,0.4L0,1L-0.657,0.4L-0.314,0.4Z","size":4900,"filled":true,"fill":"#5B9BD5","stroke":"#41719C","strokeWidth":1.5,"opacity":1},
"encoding":{"x":{"field":"x","type":"quantitative"},"y":{"field":"y","type":"quantitative"}}},
{"data":{"name":"qline"},
"mark":{"type":"rule","color":"#000000","strokeWidth":3.5},
"encoding":{"x":{"field":"x","type":"quantitative"},"y":{"field":"y","type":"quantitative"},"x2":{"field":"x2"},"y2":{"field":"y2"}}},
{"data":{"name":"qhead"},
"mark":{"type":"point","shape":"M-1,0L1,-0.7L1,0.7Z","size":484,"angle":337.3,"filled":true,"color":"#000000","opacity":1},
"encoding":{"x":{"field":"x","type":"quantitative"},"y":{"field":"y","type":"quantitative"}}},
{"data":{"name":"ann"},
"mark":{"type":"text","font":"Noto Sans CJK TC","fontSize":29,"fontWeight":300,"color":"#262626","align":"center","baseline":"middle"},
"encoding":{"x":{"field":"x","type":"quantitative"},"y":{"field":"y","type":"quantitative"},"text":{"field":"t"}}},
{"data":{"name":"q"},
"mark":{"type":"text","font":"Lato","fontSize":27,"color":"#000000","align":"center","baseline":"middle"},
"encoding":{"x":{"field":"x","type":"quantitative"},"y":{"field":"y","type":"quantitative"},"text":{"field":"t"}}}
]
}
